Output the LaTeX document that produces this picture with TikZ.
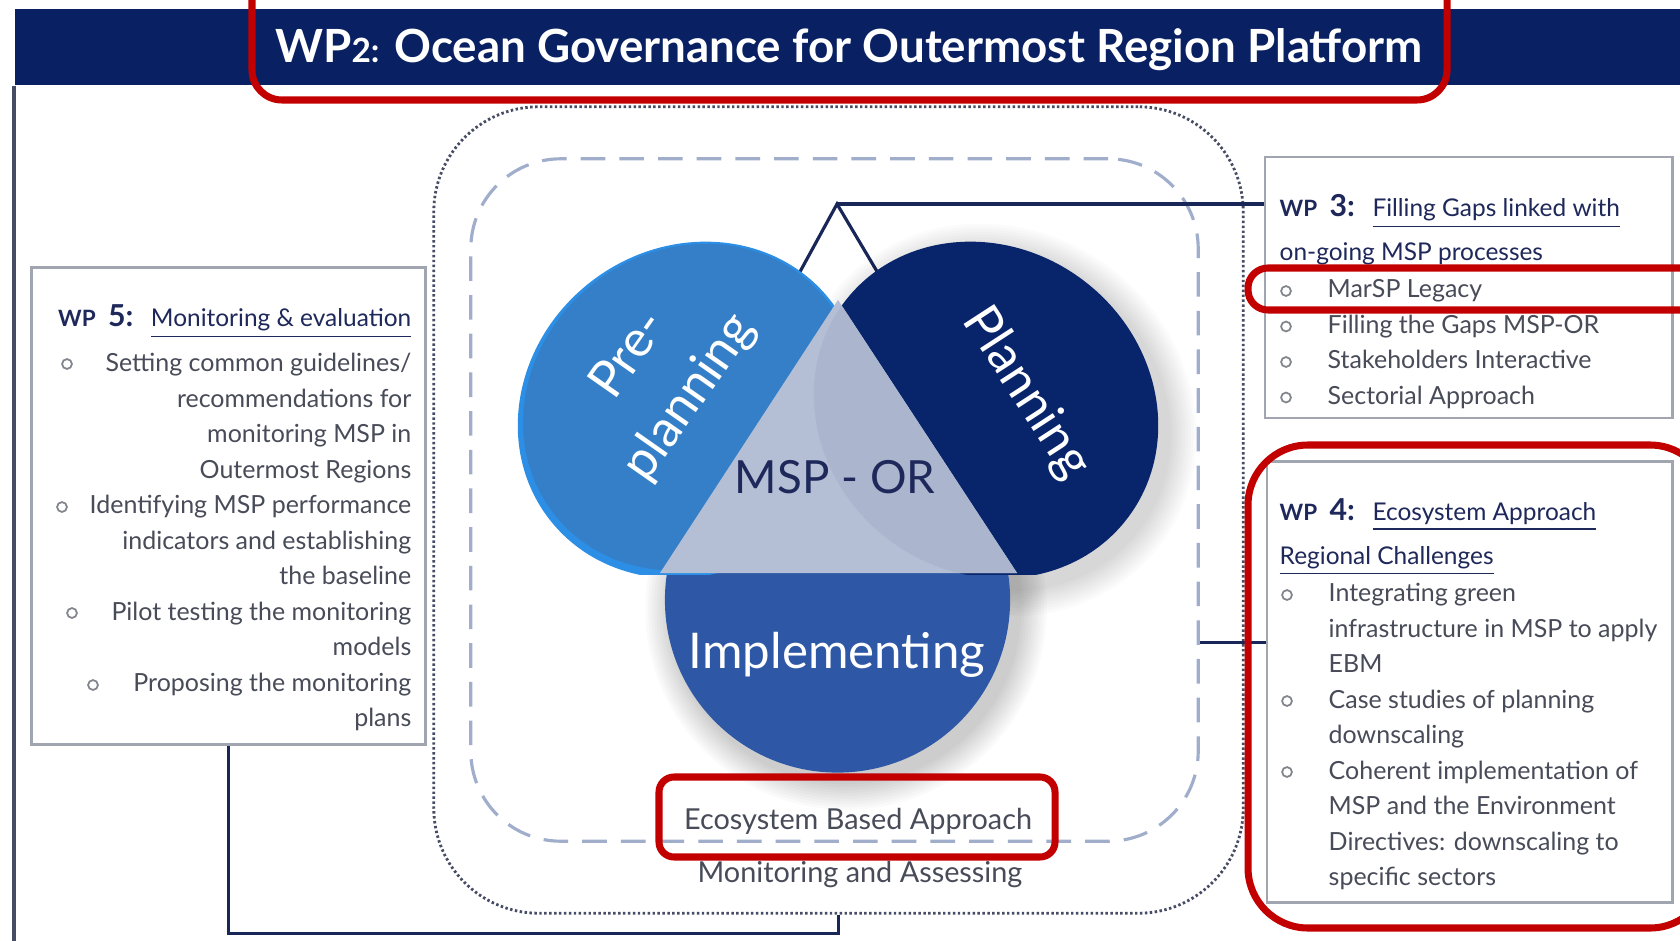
\documentclass[tikz,border=0pt]{standalone}
\usepackage{fontspec}
\setmainfont{Lato}
\usetikzlibrary{positioning}

\definecolor{barnavy}{RGB}{9,33,99}
\definecolor{preblue}{RGB}{52,127,199}
\definecolor{prerim}{RGB}{44,142,228}
\definecolor{planblue}{RGB}{8,37,108}
\definecolor{impblue}{RGB}{46,88,166}
\definecolor{trigrey}{RGB}{180,190,213}
\definecolor{tridark}{RGB}{171,181,206}
\definecolor{headblue}{RGB}{30,40,90}
\definecolor{itemgrey}{RGB}{72,75,88}
\definecolor{boxgrey}{RGB}{160,165,175}
\definecolor{linkblue}{RGB}{25,38,88}
\definecolor{dashblue}{RGB}{160,174,204}
\definecolor{dotgrey}{RGB}{70,76,100}
\definecolor{annot}{RGB}{195,0,0}
\definecolor{bulgrey}{RGB}{130,133,140}

% WP label with number
\newcommand{\wpno}[1]{{\fontsize{6.4}{7}\selectfont\bfseries WP}\hspace{3.5pt}{\fontsize{8.6}{10}\selectfont\bfseries #1:}\hspace{5pt}}

\begin{document}
\begin{tikzpicture}[x=0.01cm, y=-0.01cm, node distance=1cm,
    link/.style={draw=linkblue, line width=0.9pt},
    wpbox/.style={draw=boxgrey, line width=0.8pt, inner sep=0pt},
    head/.style={text=headblue, inner sep=0pt, font=\fontsize{6.95}{10}\selectfont},
    items/.style={text=itemgrey, inner sep=0pt, font=\fontsize{7.1}{10.1}\selectfont},
    bul/.style={draw=bulgrey, line width=0.5pt},
    disc/.style={circle, inner sep=0pt},
    bigtext/.style={inner sep=0pt, font=\fontsize{14.5}{21}\selectfont},
    redmark/.style={draw=annot, line width=2pt, rounded corners=0.3cm}]

  \fill[white] (0,0) rectangle (1680,940);
  \useasboundingbox (0,0) rectangle (1680,940);

  % title bar
  \node[fill=barnavy, inner sep=0pt, minimum width=16.65cm, minimum height=0.76cm] (bar) at (847.5,47) {};
  \node[anchor=base, text=white, inner sep=0pt, font=\fontsize{13}{15}\selectfont\bfseries] (title) at (849,63)
    {WP{\fontsize{9.5}{10}\selectfont 2:} Ocean Governance for Outermost Region Platform};
  \draw[draw=dotgrey, line width=1.1pt] (bar.south west) -- ++(0,860);

  % frames round the diagram
  \node[draw=dotgrey, line width=0.8pt, dash pattern=on 0.7pt off 0.7pt, rounded corners=1.05cm,
        minimum width=8.09cm, minimum height=8.06cm] (outer) at (838.5,510) {};
  \node[draw=dashblue, line width=0.9pt, dash pattern=on 7pt off 4pt, rounded corners=0.9cm,
        minimum width=7.27cm, minimum height=6.82cm] (inner) at (834.5,500) {};

  % legs to WP 3 (ends hidden under the discs)
  \coordinate (apex) at (837,204);
  \coordinate (legl) at (790,290);
  \coordinate (legr) at (888,290);
  \draw[link] (legl) -- (apex) -- (legr);

  % shadows
  \foreach \k in {1,...,10} {
    \fill[black, opacity=0.018] (846,609) circle ({1.725cm+\k*0.8pt});
    \fill[black, opacity=0.016, rotate around={-38:(996,420)}] (996,420)
      ellipse [x radius={1.78cm+\k*0.8pt}, y radius={1.62cm+\k*0.8pt}];
  }

  % the three discs
  \node[disc, fill=impblue, minimum size=3.45cm] (imp) at (837.5,600) {};
  \coordinate (pre) at (690,410);
  \coordinate (plan) at (986,410);
  \begin{scope}
    \clip (400,100) rectangle (1300,574);
    \fill[prerim, rotate around={38:(pre)}] (pre) ellipse [x radius=1.78cm, y radius=1.62cm];
    \fill[preblue, rotate around={38:(pre)}] ([shift={(2,-2)}]pre) ellipse [x radius=1.73cm, y radius=1.57cm];
    \fill[planblue, rotate around={-38:(plan)}] (plan) ellipse [x radius=1.78cm, y radius=1.62cm];
  \end{scope}

  \coordinate (tl) at (660,573);
  \coordinate (tt) at (838,300);
  \coordinate (tr) at (1017,573);
  \fill[trigrey] (tl) -- (tt) -- (tr) -- cycle;
  \begin{scope}
    \clip (tl) -- (tt) -- (tr) -- cycle;
    \fill[tridark, rotate around={-38:(plan)}] (plan) ellipse [x radius=1.78cm, y radius=1.62cm];
  \end{scope}

  \node[bigtext, text=white, rotate=55, align=center] (pretxt) at (660,377) {Pre-\\planning};
  \node[bigtext, text=white, rotate=-57] (plantxt) at (1026,393) {Planning};
  \node[bigtext, text=headblue, anchor=base, font=\fontsize{13}{16}\selectfont] (msp) at (835,493) {MSP - OR};
  \node[bigtext, text=white, anchor=base, font=\fontsize{14}{16}\selectfont] (imptxt) at (837,668) {Implementing};

  \node[anchor=base, inner sep=0pt, text=itemgrey, font=\fontsize{8.2}{10}\selectfont] (eba) at (858,829) {Ecosystem Based Approach};
  \node[anchor=base, inner sep=0pt, text=itemgrey, font=\fontsize{8.2}{10}\selectfont] (mon) at (860,882) {Monitoring and Assessing};

  % WP boxes
  \node[wpbox, minimum width=3.93cm, minimum height=4.76cm] (wp5) at (228.5,506) {};
  \node[wpbox, minimum width=4.07cm, minimum height=2.61cm] (wp3) at (1468.5,287.5) {};
  \node[wpbox, minimum width=4.05cm, minimum height=4.40cm] (wp4) at (1469.5,682) {};

  % WP 5
  \node[head, anchor=base east] (h5) at (412,327) {\wpno{5}\underline{Monitoring \& evaluation}};
  \node[items, anchor=north east, align=right] (t5) at (412,346)
    {\strut Setting common guidelines/\\recommendations for\\monitoring MSP in\\Outermost Regions\\
     Identifying MSP performance\\indicators and establishing\\the baseline\\
     Pilot testing the monitoring\\models\\Proposing the monitoring\\plans};
  \foreach \bx/\by in {67/364, 62/507, 72/613, 93/685}
    \draw[bul] (\bx,\by) circle (1.4pt);

  % WP 3
  \node[head, anchor=base west] (h3) at (1279,217) {\wpno{3}\underline{Filling Gaps linked with}};
  \node[head, anchor=base west] (h3b) at (1279,261) {\underline{on-going MSP processes}};
  \node[items, anchor=north west, align=left] (t3) at (1327,272)
    {\strut MarSP Legacy\\Filling the Gaps MSP-OR\\Stakeholders Interactive\\Sectorial Approach};
  \foreach \by in {291, 326.5, 362, 397.5}
    \draw[bul] (1286,\by) circle (1.4pt);

  % WP 4
  \node[head, anchor=base west] (h4) at (1279,520) {\wpno{4}\underline{Ecosystem Approach}};
  \node[head, anchor=base west] (h4b) at (1279,564) {\underline{Regional Challenges}};
  \node[items, anchor=north west, align=left] (t4) at (1328,576)
    {\strut Integrating green\\infrastructure in MSP to apply\\EBM\\Case studies of planning\\downscaling\\
     Coherent implementation of\\MSP and the Environment\\Directives: downscaling to\\specific sectors};
  \foreach \by in {595, 701, 772}
    \draw[bul] (1287,\by) circle (1.4pt);

  % connectors
  \coordinate (c4) at ([yshift=-1.42cm]inner.east);
  \draw[link] (apex) -- (apex -| wp3.west);
  \draw[link] (c4) -- (c4 -| wp4.west);
  \draw[link] (wp5.south) -- ++(0,188) -| (outer.south);

  % red marks
  \draw[redmark] (252,-30) rectangle (1447,100);
  \draw[redmark, rounded corners=0.2cm] (1248,268) rectangle (1710,310);
  \draw[redmark, rounded corners=0.6cm] (1248,445) rectangle (1710,928);
  \draw[redmark, rounded corners=0.15cm] (659,777) rectangle (1055,857);
\end{tikzpicture}
\end{document}
